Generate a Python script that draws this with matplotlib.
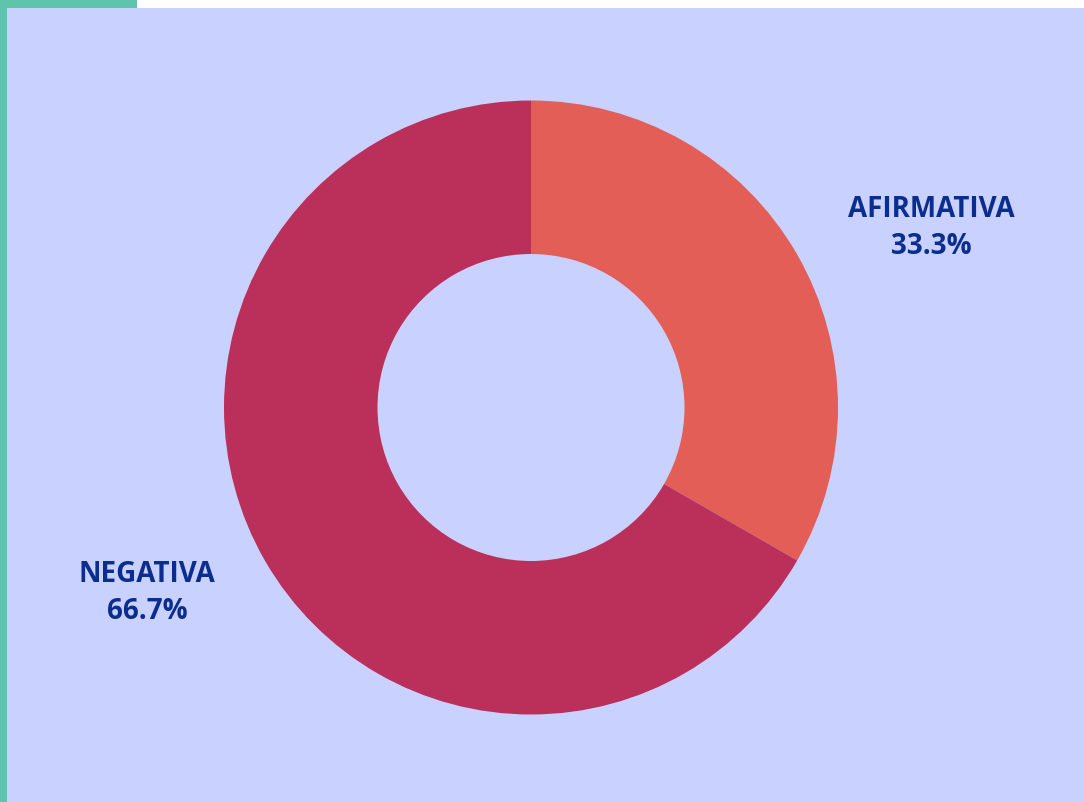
import matplotlib.pyplot as plt
from matplotlib.patches import Rectangle

# datos
categorias = ["AFIRMATIVA", "NEGATIVA"]
valores = [33.3, 66.7]
colores = ["#E35E57", "#BB2F5B"]

W, H = 1084, 803
fig = plt.figure(figsize=(W / 100, H / 100), dpi=100)
fig.patch.set_facecolor("#C9D1FF")

# bordes verdes
fig.patches.append(Rectangle((0, 0), 7 / W, 1, transform=fig.transFigure, facecolor="#5EC4AB", zorder=1))
fig.patches.append(Rectangle((0, 1 - 9 / H), 137 / W, 9 / H, transform=fig.transFigure, facecolor="#5EC4AB", zorder=1))
fig.patches.append(Rectangle((137 / W, 1 - 9 / H), 1 - 137 / W, 9 / H, transform=fig.transFigure, facecolor="white", zorder=1))

ax = fig.add_axes([0, 0, 1, 1])
ax.set_zorder(5)
ax.patch.set_visible(False)

cx, cy, r = 531, H - 408.5, 307
ax.pie(valores, colors=colores, startangle=90, counterclock=False, center=(cx, cy), radius=r,
       wedgeprops=dict(width=r * 0.5, linewidth=0), frame=True)
ax.set_xlim(0, W)
ax.set_ylim(0, H)
ax.set_aspect("equal")
ax.axis("off")

pos_etiquetas = [(931, H - 228), (147, H - 593)]
for cat, val, (x, y) in zip(categorias, valores, pos_etiquetas):
    ax.text(x, y, f"{cat}\n{val:.1f}%", ha="center", va="center", fontsize=20, fontweight="bold",
            color="#0B2E8E", family="Open Sans", linespacing=1.35)

fig.savefig("out.png", dpi=100, facecolor=fig.get_facecolor())
